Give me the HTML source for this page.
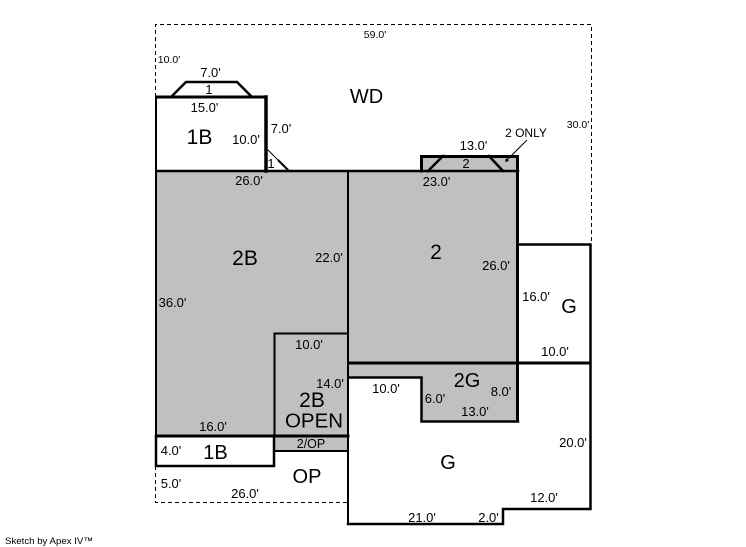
<!DOCTYPE html>
<html>
<head>
<meta charset="utf-8">
<style>
html,body{margin:0;padding:0;background:#fff;width:746px;height:547px;overflow:hidden}
svg{display:block}
text{font-family:"Liberation Sans",sans-serif;fill:#000;text-anchor:middle}
.s{font-size:13px}
.l{font-size:21px}
.m{font-size:20px}
.t{font-size:10.5px}
</style>
</head>
<body>
<svg width="746" height="547" viewBox="0 0 746 547" xmlns="http://www.w3.org/2000/svg">
<!-- gray fills -->
<g fill="#c0c0c0" stroke="none">
<rect x="156" y="171" width="192" height="265"/>
<rect x="348" y="171" width="170" height="192"/>
<rect x="421" y="156" width="97" height="15"/>
<rect x="348" y="363" width="170" height="14"/>
<rect x="421" y="363" width="97" height="59"/>
<rect x="274" y="436" width="74" height="15"/>
</g>
<!-- dashed -->
<g fill="none" stroke="#000" stroke-width="1" stroke-dasharray="4 3">
<path d="M155.5 97V24.5H591.5V244"/>
<path d="M155.5 466V502.5H348"/>
</g>
<!-- walls -->
<g fill="none" stroke="#000" stroke-linecap="square">
<path d="M157 97H266" stroke-width="3"/>
<path d="M156 97V436" stroke-width="2"/>
<path d="M266 97V171" stroke-width="3.5"/>
<path d="M157 171H518" stroke-width="2.5"/>
<path d="M348 171V524" stroke-width="2"/>
<path d="M421.500 171V156.500H517.500V421" stroke-width="3"/>
<path d="M518 244.500H590.500V509H503V524H348" stroke-width="2.5"/>
<path d="M349 363H590" stroke-width="3"/>
<path d="M349 377.500H421.500V421.500H518" stroke-width="2.5"/>
<path d="M274.500 436V333.500H348" stroke-width="2"/>
<path d="M157 436H348" stroke-width="3"/>
<path d="M156 436V466H274V436" stroke-width="2.5"/>
<path d="M274 451H348" stroke-width="2"/>
<!-- bays -->
<path d="M171 97L186 82H237L252 97" stroke-width="2.5"/>
<path d="M428 171L443 156" stroke-width="2.5"/>
<path d="M489 156L503 171" stroke-width="2.5"/>
</g>
<path d="M268 150L278 160" stroke="#000" stroke-width="1" fill="none"/>
<path d="M278 160L289 171" stroke="#000" stroke-width="2" fill="none"/>
<!-- 2 only leader -->
<path d="M527 140L507 160" stroke="#000" stroke-width="1" fill="none"/>
<path d="M505 162L506 158L509 161Z" fill="#000"/>
<!-- small labels -->
<text class="t" x="375" y="38">59.0'</text>
<text class="t" x="169" y="63">10.0'</text>
<text class="t" x="578" y="128">30.0'</text>
<text class="s" x="210.500" y="77">7.0'</text>
<text class="s" x="209" y="94">1</text>
<text class="s" x="204.500" y="112">15.0'</text>
<text class="s" x="246" y="144">10.0'</text>
<text class="s" x="281" y="133">7.0'</text>
<text class="s" x="271" y="168">1</text>
<text class="s" x="249" y="185">26.0'</text>
<text class="s" x="473.500" y="150">13.0'</text>
<text x="526" y="137" style="font-size:12px">2 ONLY</text>
<text class="s" x="466" y="168">2</text>
<text class="s" x="436.500" y="186">23.0'</text>
<text class="s" x="329" y="262">22.0'</text>
<text class="s" x="172.500" y="307">36.0'</text>
<text class="s" x="496" y="270">26.0'</text>
<text class="s" x="536" y="301">16.0'</text>
<text class="s" x="555" y="356">10.0'</text>
<text class="s" x="309" y="349">10.0'</text>
<text class="s" x="330" y="388">14.0'</text>
<text class="s" x="386" y="393">10.0'</text>
<text class="s" x="435" y="403">6.0'</text>
<text class="s" x="501" y="396">8.0'</text>
<text class="s" x="475" y="416">13.0'</text>
<text class="s" x="213" y="431">16.0'</text>
<text x="311" y="448" style="font-size:12.5px">2/OP</text>
<text class="s" x="171" y="455">4.0'</text>
<text class="s" x="171" y="488">5.0'</text>
<text class="s" x="245" y="498">26.0'</text>
<text class="s" x="573" y="447">20.0'</text>
<text class="s" x="544" y="502">12.0'</text>
<text class="s" x="422" y="522">21.0'</text>
<text class="s" x="488.500" y="522">2.0'</text>
<!-- large labels -->
<text class="m" x="366.500" y="103">WD</text>
<text class="l" x="199.500" y="144">1B</text>
<text class="l" x="245" y="265">2B</text>
<text class="l" x="436" y="259">2</text>
<text class="m" x="569" y="313">G</text>
<text class="m" x="467" y="387">2G</text>
<text class="l" x="312" y="407">2B</text>
<text class="m" x="314" y="427.500" textLength="58" lengthAdjust="spacingAndGlyphs">OPEN</text>
<text class="m" x="215.500" y="459">1B</text>
<text class="m" x="307" y="483">OP</text>
<text class="m" x="448" y="469">G</text>
<text x="49" y="544" style="font-size:9.5px" textLength="88" lengthAdjust="spacingAndGlyphs">Sketch by Apex IV™</text>
</svg>
</body>
</html>
